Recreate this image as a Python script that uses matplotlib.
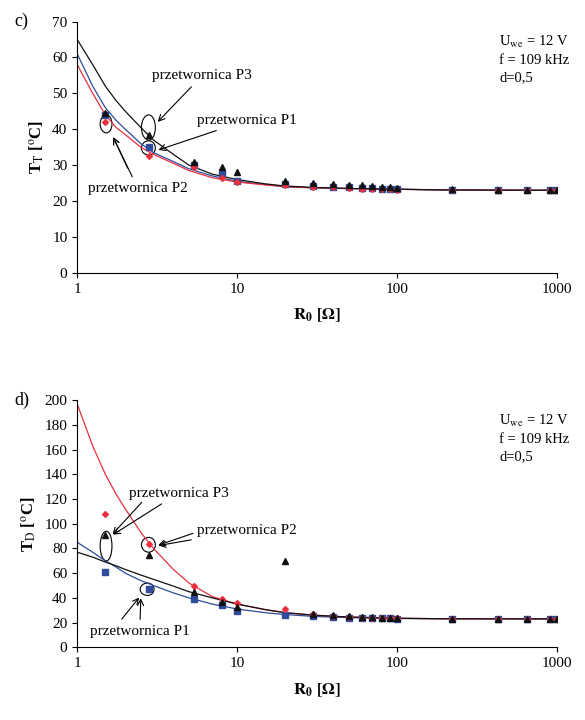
import matplotlib
matplotlib.use('Agg')
import matplotlib.pyplot as plt
from matplotlib.patches import Ellipse

plt.rcParams['font.family'] = ['Liberation Serif', 'DejaVu Serif']
plt.rcParams['mathtext.fontset'] = 'stix'

# measurement points, load resistance R0 [Ohm]
r_pts = [1.5, 2.8, 5.4, 8, 10, 20, 30, 40, 50, 60, 70, 80, 90, 100, 220, 430, 650, 900, 1000]

# c) transistor temperature T_T
tt_p1 = [44, 35, 30, 27.8, 25.5, 24.8, 24.3, 24, 23.8, 23.7, 23.6, 23.5, 23.4, 23.3, 23.2, 23.1, 23, 23, 23]
tt_p2 = [42, 32.5, 29.5, 26.5, 25.2, 24.5, 24, 23.8, 23.6, 23.5, 23.4, 23.3, 23.3, 23.2, 23.1, 23, 23, 23, 23]
tt_p3 = [44.5, 38.5, 31, 29.5, 28, 25.5, 25, 24.8, 24.6, 24.5, 24.3, 24, 23.8, 23.6, 23.3, 23.2, 23.1, 23.1, 23]

# d) diode temperature T_D
td_p1 = [61, 47, 39, 34, 29, 26, 25, 24.5, 24, 23.8, 23.6, 23.5, 23.4, 23.3, 23, 23, 23, 23, 23]
td_p2 = [108, 84, 50, 39, 36, 31, 27, 25, 24.5, 24, 24, 23.5, 23.5, 23.5, 23, 23, 23, 23, 23]
td_p3 = [91, 75, 45, 37, 33, 70, 27, 26, 25, 24.5, 24.2, 24, 23.8, 23.6, 23.2, 23, 23, 23, 23]

# trend curves
r_fit = [1, 1.25, 1.5, 1.75, 2, 2.5, 3, 4, 5, 7, 10, 15, 20, 30, 50, 100, 200, 1000]
tt_fit_p1 = [61, 52, 46, 42.5, 40, 36, 33.5, 31, 29, 27, 25.5, 24.6, 24, 23.7, 23.5, 23.3, 23.1, 23]
tt_fit_p2 = [58, 50, 44, 40.5, 38.5, 35, 33, 30.5, 28.5, 26.5, 25.3, 24.5, 24, 23.7, 23.5, 23.3, 23.1, 23]
tt_fit_p3 = [65, 58, 52, 48, 45, 40.5, 37, 33, 30, 27.5, 26, 24.8, 24.2, 23.8, 23.5, 23.3, 23.1, 23]
td_fit_p1 = [85, 77, 70, 65, 60, 54, 50, 44, 40, 35, 31, 28, 26.5, 25, 24, 23.3, 23.1, 23]
td_fit_p2 = [197, 163, 140, 124, 112, 93, 80, 63, 52, 41, 35, 30.5, 28, 26, 24.5, 23.5, 23.1, 23]
td_fit_p3 = [77, 73, 69, 66, 63, 58.5, 55, 49.5, 45, 40, 35, 30.5, 28, 26, 24.5, 23.5, 23.1, 23]

BLUE = '#2e4c9b'
RED = '#e8303f'
BLACK = '#111111'


def draw(ax, fits, pts, ylim, yticks, ylabel, letter):
    for y, c in zip(fits, [BLUE, RED, BLACK]):
        ax.plot(r_fit, y, color=c, lw=0.9)
    ax.plot(r_pts, pts[0], 's', color=BLUE, ms=4)
    ax.plot(r_pts, pts[1], 'D', color=RED, ms=3)
    ax.plot(r_pts, pts[2], '^', color=BLACK, ms=4)
    ax.set_xscale('log')
    ax.set_xlim(1, 1000)
    ax.set_ylim(*ylim)
    ax.set_yticks(yticks)
    ax.set_xticks([1, 10, 100, 1000])
    ax.set_xticklabels(['1', '10', '100', '1000'])
    ax.minorticks_off()
    ax.tick_params(labelsize=11, direction='out')
    for s in ['top', 'right']:
        ax.spines[s].set_visible(False)
    ax.set_xlabel(r'$\mathbf{R_0}$ $\mathbf{[\Omega]}$', fontsize=12, labelpad=8)
    ax.set_ylabel(ylabel, fontsize=12, fontweight='bold')
    ax.text(0.88, 0.95, r'U$_{\rm we}$ = 12 V' + '\nf = 109 kHz\nd=0,5',
            transform=ax.transAxes, fontsize=10.5, va='top', linespacing=1.4)
    ax.text(-0.13, 1.0, letter, transform=ax.transAxes, fontsize=13, va='center')


fig = plt.figure(figsize=(5.85, 7.2), dpi=100)
ax1 = fig.add_axes([0.132, 0.621, 0.82, 0.349])
ax2 = fig.add_axes([0.132, 0.101, 0.82, 0.343])

draw(ax1, [tt_fit_p1, tt_fit_p2, tt_fit_p3], [tt_p1, tt_p2, tt_p3],
     (0, 70), range(0, 71, 10), r'T$_{\rm T}$ [$^{\rm o}$C]', 'c)')
draw(ax2, [td_fit_p1, td_fit_p2, td_fit_p3], [td_p1, td_p2, td_p3],
     (0, 200), range(0, 201, 20), r'T$_{\rm D}$ [$^{\rm o}$C]', 'd)')

arr = dict(arrowstyle='->', color='black', lw=0.8)
# top annotations
ax1.add_patch(Ellipse((1.52, 41.5), 0.17 * 1.52, 5, fill=False, lw=0.8))
ax1.add_patch(Ellipse((2.8, 40.5), 0.2 * 2.8, 7, fill=False, lw=0.8))
ax1.add_patch(Ellipse((2.8, 34.8), 0.2 * 2.8, 4, fill=False, lw=0.8))
ax1.annotate('przetwornica P3', xy=(3.1, 41.5), xytext=(2.95, 54), fontsize=11, arrowprops=arr)
ax1.annotate('przetwornica P1', xy=(3.1, 34), xytext=(5.6, 41.5), fontsize=11, arrowprops=arr)
ax1.annotate('przetwornica P2', xy=(1.65, 38.5), xytext=(1.17, 22.5), fontsize=11, arrowprops=arr)
ax1.annotate('', xy=(1.65, 38.5), xytext=(2.1, 28.5), arrowprops=arr)

# bottom annotations
ax2.add_patch(Ellipse((1.52, 82), 0.17 * 1.52, 24, fill=False, lw=0.8))
ax2.add_patch(Ellipse((2.8, 83), 0.2 * 2.8, 12, fill=False, lw=0.8))
ax2.add_patch(Ellipse((2.75, 47), 0.2 * 2.75, 10, fill=False, lw=0.8))
ax2.annotate('przetwornica P3', xy=(1.62, 90), xytext=(2.1, 122), fontsize=11, arrowprops=arr)
ax2.annotate('', xy=(1.62, 90), xytext=(2.6, 119), arrowprops=arr)
ax2.annotate('przetwornica P2', xy=(3.1, 82), xytext=(5.6, 92), fontsize=11, arrowprops=arr)
ax2.annotate('', xy=(3.1, 82), xytext=(5.5, 93), arrowprops=arr)
ax2.annotate('przetwornica P1', xy=(2.5, 42), xytext=(1.2, 10), fontsize=11, arrowprops=arr)
ax2.annotate('', xy=(2.5, 42), xytext=(1.85, 21), arrowprops=arr)

fig.savefig('out.png', dpi=100)
